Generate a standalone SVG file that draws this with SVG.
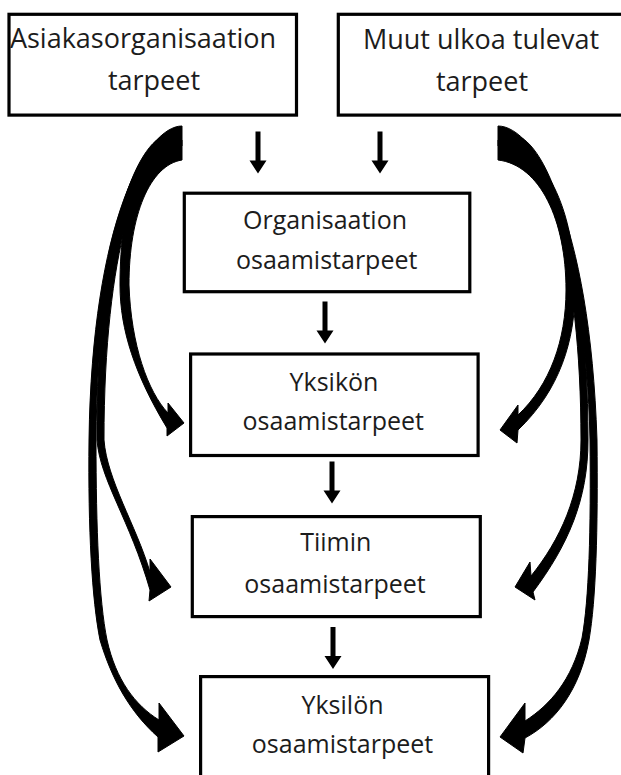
<svg xmlns="http://www.w3.org/2000/svg" xmlns:xlink="http://www.w3.org/1999/xlink" width="621" height="775" viewBox="0 0 621 775">
<style>
.box{fill:#fff;stroke:#000;stroke-width:3.2}
.t{font-family:"Open Sans","Noto Sans","Liberation Sans",sans-serif;fill:#1c1c1c;text-anchor:middle}
.big{font-size:27px}
.sm{font-size:25px}
.arr{fill:#000;stroke:#000;stroke-width:1;stroke-linejoin:round}
</style>
<defs>
<path id="down" d="M-2.5,0 H2.5 V29 H8.5 L0,42 L-8.5,29 H-2.5 Z"/>
</defs>
<rect width="621" height="775" fill="#fff"/>
<g id="asiakas">
<rect class="box" x="9" y="14.3" width="287.5" height="100.8"/>
<text class="t big" x="143" y="47.5">Asiakasorganisaation</text>
<text class="t big" x="154" y="90">tarpeet</text>
</g>
<g id="muut">
<rect class="box" x="338.3" y="14.3" width="290" height="100.8"/>
<text class="t big" x="481" y="49">Muut ulkoa tulevat</text>
<text class="t big" x="482" y="91">tarpeet</text>
</g>
<g id="organisaatio">
<rect class="box" x="184.3" y="193.2" width="285.5" height="98.5"/>
<text class="t sm" x="325" y="228.5">Organisaation</text>
<text class="t sm" x="326.7" y="268.5">osaamistarpeet</text>
</g>
<g id="yksikko">
<rect class="box" x="190.6" y="354" width="287.5" height="101.5"/>
<text class="t sm" x="334" y="390.7">Yksikön</text>
<text class="t sm" x="333.3" y="430">osaamistarpeet</text>
</g>
<g id="tiimi">
<rect class="box" x="192.3" y="516.6" width="288" height="100"/>
<text class="t sm" x="335.8" y="550.7">Tiimin</text>
<text class="t sm" x="335" y="593.3">osaamistarpeet</text>
</g>
<g id="yksilo">
<rect class="box" x="200.6" y="676.6" width="288" height="102"/>
<text class="t sm" x="342.5" y="714">Yksilön</text>
<text class="t sm" x="342.5" y="753.3">osaamistarpeet</text>
</g>
<g id="connectors" fill="#000">
<use xlink:href="#down" x="258" y="131.5"/>
<use xlink:href="#down" x="380" y="131.5"/>
<use xlink:href="#down" x="325" y="301.5"/>
<use xlink:href="#down" x="332" y="461.5"/>
<use xlink:href="#down" x="333" y="627"/>
<path class="arr" d="M182,126 C147,126 92,220 89,440 C88,530 92,600 100,640 C112,680 130,712 158,737 L158,752 L184,736 L159,703 L159,720 C135,705 116,680 107,640 C99,600 96,530 96,440 C97,240 145,146 182,146 Z"/>
<path class="arr" d="M171,134 C140,134 97,225 97,440 C100,480 130,520 150,590 L149,601 L171,587 L150,559 L150,572 C136,525 107,480 104,440 C104,250 140,150 171,150 Z"/>
<path class="arr" d="M182,140 C140,146 120,200 120,285 C120,330 135,375 167,428 L167,436 L184,423 L168,403 L168,413 C148,392 131,345 129,285 C129,215 150,165 182,160 Z"/>
<path class="arr" d="M498,126 C535,126 590,220 597,440 C598,530 596,600 589,640 C580,690 555,722 525,738 L523,753 L500,737 L525,703 L525,721 C550,705 572,680 582,638 C589,600 591,530 590,440 C586,245 538,146 498,146 Z"/>
<path class="arr" d="M510,134 C545,134 588,240 588,440 C588,500 568,545 533,592 L535,600 L515,587 L530,562 L531,576 C560,540 581,495 581,440 C581,260 545,150 510,150 Z"/>
<path class="arr" d="M498,140 C545,146 575,210 575,290 C575,340 560,390 518,430 L517,443 L500,430 L518,405 L518,415 C550,385 566,340 566,290 C566,220 540,165 498,160 Z"/>
</g>
</svg>
